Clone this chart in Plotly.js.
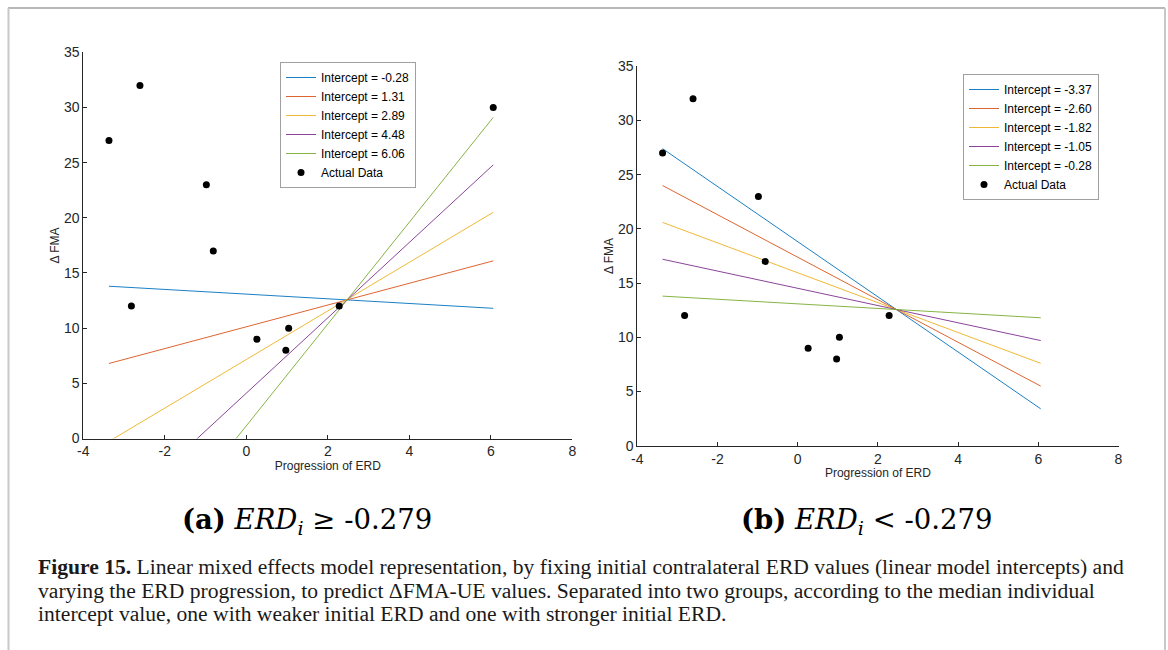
<!DOCTYPE html>
<html>
<head>
<meta charset="utf-8">
<script src="https://cdn.plot.ly/plotly-3.0.1.min.js"></script>
<style>
html,body{margin:0;padding:0;background:#fff;}
#chart{width:1168px;height:650px;}
</style>
</head>
<body>
<div id="chart"></div>
<script>
// ---- data ----
const xEnds = [-3.37, 6.06];
const interceptsA = ['-0.28', '1.31', '2.89', '4.48', '6.06'];
const lineAStart = [13.8, 6.8, -0.26, -7.4, -14.4];
const lineAEnd = [11.8, 16.1, 20.5, 24.8, 29.1];
const interceptsB = ['-3.37', '-2.60', '-1.82', '-1.05', '-0.28'];
const lineBStart = [27.4, 24.0, 20.6, 17.2, 13.8];
const lineBEnd = [3.4, 5.5, 7.6, 9.7, 11.8];
const dataAX = [-3.37, -2.61, -2.82, -0.98, -0.81, 0.26, 0.97, 1.04, 2.28, 6.06];
const dataAY = [27, 32, 12, 23, 17, 9, 8, 10, 12, 30];
const dataBX = [-3.37, -2.61, -2.82, -0.98, -0.81, 0.26, 0.97, 1.04, 2.28];
const dataBY = [27, 32, 12, 23, 17, 9, 8, 10, 12];
const xTicks = [-4, -2, 0, 2, 4, 6, 8];
const xTickText = ['-4', '-2', '0', '2', '4', '6', '8'];
const yTicks = [0, 5, 10, 15, 20, 25, 30, 35];

const colors = ['#0072BD', '#D95319', '#EDB120', '#7E2F8E', '#77AC30'];

const traces = [];
interceptsA.forEach((lab, i) => {
  traces.push({
    x: xEnds, y: [lineAStart[i], lineAEnd[i]], mode: 'lines', type: 'scatter',
    name: 'Intercept = ' + lab, line: {color: colors[i], width: 0.9},
    xaxis: 'x', yaxis: 'y', legend: 'legend'
  });
});
traces.push({
  x: dataAX, y: dataAY, mode: 'markers', type: 'scatter', name: 'Actual Data',
  marker: {color: '#000', size: 7}, xaxis: 'x', yaxis: 'y', legend: 'legend'
});
interceptsB.forEach((lab, i) => {
  traces.push({
    x: xEnds, y: [lineBStart[i], lineBEnd[i]], mode: 'lines', type: 'scatter',
    name: 'Intercept = ' + lab, line: {color: colors[i], width: 0.9},
    xaxis: 'x2', yaxis: 'y2', legend: 'legend2'
  });
});
traces.push({
  x: dataBX, y: dataBY, mode: 'markers', type: 'scatter', name: 'Actual Data',
  marker: {color: '#000', size: 7}, xaxis: 'x2', yaxis: 'y2', legend: 'legend2'
});

const W = 1168, H = 650;
const px = v => v / W;
const py = v => 1 - v / H;

const tickFont = {family: 'Liberation Sans, Arial, sans-serif', size: 14, color: '#262626'};
const axFont = {family: 'Liberation Sans, Arial, sans-serif', size: 12, color: '#262626'};
function xax(domain, anchor) {
  return {
    domain: domain, anchor: anchor, range: [-4, 8], tickvals: xTicks, ticktext: xTickText,
    ticks: 'inside', ticklen: 4, tickcolor: '#262626', tickwidth: 1,
    showline: true, linecolor: '#262626', linewidth: 1, showgrid: false, zeroline: false,
    tickfont: tickFont, fixedrange: true,
    title: {text: 'Progression of ERD', font: axFont, standoff: 3}
  };
}
function yax(domain, anchor) {
  return {
    domain: domain, anchor: anchor, range: [0, 35], tickvals: yTicks,
    ticks: 'inside', ticklen: 4, tickcolor: '#262626', tickwidth: 1,
    showline: true, linecolor: '#262626', linewidth: 1, showgrid: false, zeroline: false,
    tickfont: tickFont, fixedrange: true,
    title: {text: 'Δ FMA', font: axFont, standoff: 1}
  };
}

const legFont = {family: 'Liberation Sans, Arial, sans-serif', size: 12, color: '#000'};
const serif = 'Liberation Serif, Times New Roman, serif';
const capFont = {family: serif, size: 21.6, color: '#1a1a1a'};
const subFont = {family: 'DejaVu Serif, serif', size: 27.5, color: '#000'};

const layout = {
  width: W, height: H,
  margin: {l: 0, r: 0, t: 0, b: 0},
  paper_bgcolor: '#fff', plot_bgcolor: '#fff',
  xaxis: xax([px(83.3), px(572.3)], 'y'),
  yaxis: yax([py(438.5), py(52.3)], 'x'),
  xaxis2: xax([px(637.3), px(1118.5)], 'y2'),
  yaxis2: yax([py(445.7), py(66.3)], 'x2'),
  legend: {
    x: px(280), y: py(62), xanchor: 'left', yanchor: 'top',
    bgcolor: '#fff', bordercolor: '#a0a0a0', borderwidth: 1,
    font: legFont, tracegroupgap: 0, itemwidth: 30
  },
  legend2: {
    x: px(963), y: py(74), xanchor: 'left', yanchor: 'top',
    bgcolor: '#fff', bordercolor: '#a0a0a0', borderwidth: 1,
    font: legFont, tracegroupgap: 0, itemwidth: 30
  },
  shapes: [
    {type: 'line', xref: 'paper', yref: 'paper', x0: px(8), x1: px(1165), y0: py(8), y1: py(8), line: {color: '#a0a0a0', width: 1.5}},
    {type: 'line', xref: 'paper', yref: 'paper', x0: px(8.5), x1: px(8.5), y0: py(8), y1: 0, line: {color: '#c8c8c8', width: 2}},
    {type: 'line', xref: 'paper', yref: 'paper', x0: px(1165), x1: px(1165), y0: py(8), y1: 0, line: {color: '#c8c8c8', width: 2}}
  ],
  annotations: [
    {xref: 'paper', yref: 'paper', x: px(307), y: py(521), xanchor: 'center', yanchor: 'middle', showarrow: false,
     text: '<b>(a)</b> <i>ERD<sub>i</sub></i> ≥ -0.279', font: subFont},
    {xref: 'paper', yref: 'paper', x: px(867), y: py(521), xanchor: 'center', yanchor: 'middle', showarrow: false,
     text: '<b>(b)</b> <i>ERD<sub>i</sub></i> < -0.279', font: subFont},
    {xref: 'paper', yref: 'paper', x: px(36), y: py(567), xanchor: 'left', yanchor: 'middle', showarrow: false,
     text: '<b>Figure 15.</b> Linear mixed effects model representation, by fixing initial contralateral ERD values (linear model intercepts) and',
     font: capFont},
    {xref: 'paper', yref: 'paper', x: px(36), y: py(591), xanchor: 'left', yanchor: 'middle', showarrow: false,
     text: 'varying the ERD progression, to predict ΔFMA-UE values. Separated into two groups, according to the median individual',
     font: capFont},
    {xref: 'paper', yref: 'paper', x: px(36), y: py(614), xanchor: 'left', yanchor: 'middle', showarrow: false,
     text: 'intercept value, one with weaker initial ERD and one with stronger initial ERD.',
     font: capFont}
  ]
};

Plotly.newPlot('chart', traces, layout, {staticPlot: true, displayModeBar: false});
</script>
</body>
</html>
